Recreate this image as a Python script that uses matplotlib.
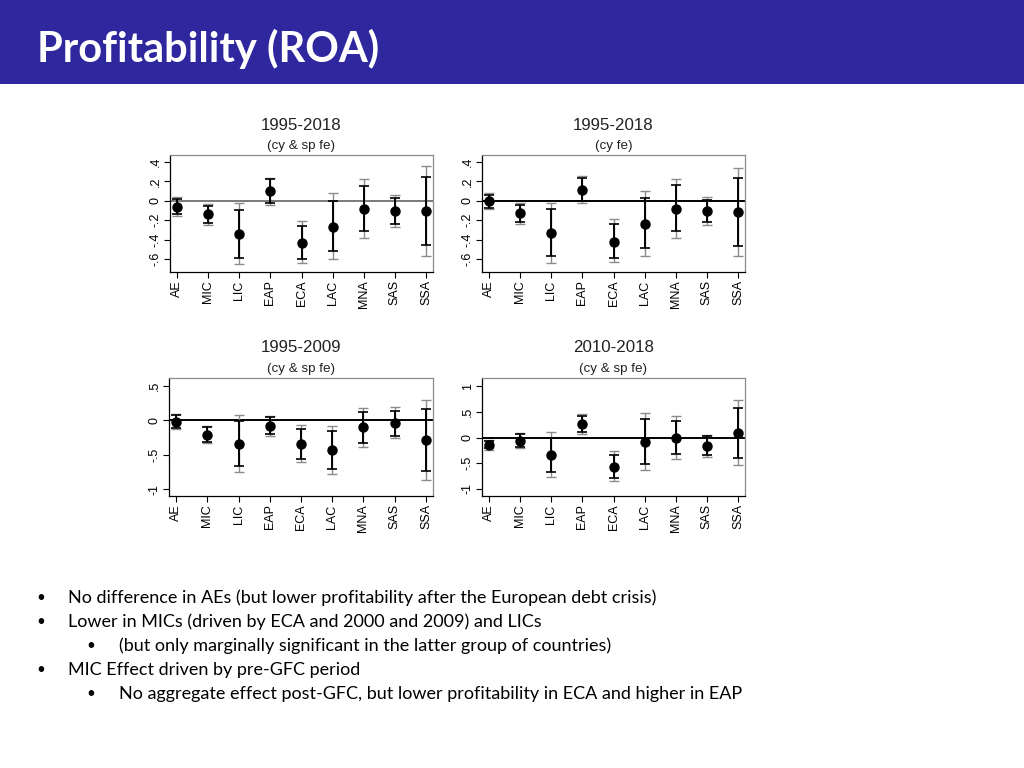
import numpy as np
import matplotlib.pyplot as plt
from matplotlib.patches import Rectangle

# Regiony / grupy krajow
regions = ['AE', 'MIC', 'LIC', 'EAP', 'ECA', 'LAC', 'MNA', 'SAS', 'SSA']

# 1995-2018, cy & sp fe
p1_est = [-0.06, -0.14, -0.34, 0.10, -0.43, -0.27, -0.08, -0.11, -0.11]
p1_lo90 = [-0.14, -0.23, -0.59, -0.02, -0.60, -0.52, -0.31, -0.24, -0.46]
p1_hi90 = [0.02, -0.05, -0.09, 0.22, -0.26, 0.00, 0.15, 0.03, 0.25]
p1_lo95 = [-0.16, -0.25, -0.65, -0.04, -0.64, -0.60, -0.38, -0.27, -0.57]
p1_hi95 = [0.04, -0.03, -0.02, 0.24, -0.21, 0.08, 0.22, 0.06, 0.36]

# 1995-2018, cy fe
p2_est = [0.00, -0.13, -0.33, 0.11, -0.42, -0.24, -0.08, -0.11, -0.12]
p2_lo90 = [-0.07, -0.22, -0.57, 0.00, -0.59, -0.49, -0.31, -0.22, -0.47]
p2_hi90 = [0.06, -0.04, -0.08, 0.24, -0.24, 0.03, 0.16, 0.01, 0.23]
p2_lo95 = [-0.08, -0.24, -0.64, -0.02, -0.63, -0.57, -0.38, -0.25, -0.57]
p2_hi95 = [0.08, -0.02, -0.02, 0.26, -0.19, 0.10, 0.22, 0.04, 0.34]

# 1995-2009, cy & sp fe
p3_est = [-0.02, -0.21, -0.35, -0.08, -0.34, -0.43, -0.10, -0.04, -0.29]
p3_lo90 = [-0.11, -0.31, -0.67, -0.20, -0.56, -0.70, -0.33, -0.22, -0.73]
p3_hi90 = [0.08, -0.10, -0.01, 0.05, -0.12, -0.16, 0.12, 0.14, 0.16]
p3_lo95 = [-0.13, -0.33, -0.75, -0.23, -0.61, -0.78, -0.39, -0.26, -0.87]
p3_hi95 = [0.10, -0.08, 0.08, 0.07, -0.06, -0.08, 0.18, 0.19, 0.29]

# 2010-2018, cy & sp fe
p4_est = [-0.14, -0.06, -0.34, 0.26, -0.57, -0.08, 0.00, -0.17, 0.09]
p4_lo90 = [-0.21, -0.19, -0.67, 0.10, -0.79, -0.51, -0.32, -0.34, -0.39]
p4_hi90 = [-0.06, 0.07, 0.00, 0.42, -0.34, 0.35, 0.33, 0.02, 0.57]
p4_lo95 = [-0.24, -0.21, -0.76, 0.07, -0.84, -0.64, -0.41, -0.38, -0.54]
p4_hi95 = [-0.04, 0.09, 0.10, 0.45, -0.27, 0.48, 0.41, 0.05, 0.72]

bullets = [
    (0, 'No difference in AEs (but lower profitability after the European debt crisis)'),
    (0, 'Lower in MICs (driven by ECA and 2000 and 2009) and LICs'),
    (1, '(but only marginally significant in the latter group of countries)'),
    (0, 'MIC Effect driven by pre-GFC period'),
    (1, 'No aggregate effect post-GFC, but lower profitability in ECA and higher in EAP'),
]

W, H = 1024, 768
fig = plt.figure(figsize=(W / 100, H / 100), dpi=100)
fig.patch.set_facecolor('white')

# Naglowek
fig.patches.append(Rectangle((0, 1 - 84 / H), 1, 84 / H, transform=fig.transFigure,
                             facecolor='#2f279e', edgecolor='none', zorder=0))
fig.text(37 / W, 1 - 49 / H, 'Profitability (ROA)', color='white', fontsize=30,
         fontweight='bold', family='Lato', va='center', ha='left')

def px_axes(x0, y0, x1, y1):
    return fig.add_axes([x0 / W, 1 - y1 / H, (x1 - x0) / W, (y1 - y0) / H])

def draw_panel(ax, est, lo90, hi90, lo95, hi95, ylim, yticks, ylabels, title, sub, zcol):
    x = np.arange(1, len(regions) + 1)
    est = np.array(est)
    ax.axhline(0, color=zcol, lw=1.4, zorder=1)
    ax.errorbar(x, est, yerr=[est - np.array(lo95), np.array(hi95) - est], fmt='none',
                ecolor='#8c8c8c', elinewidth=1.0, capsize=3.5, capthick=1.0, zorder=2)
    ax.errorbar(x, est, yerr=[est - np.array(lo90), np.array(hi90) - est], fmt='none',
                ecolor='black', elinewidth=1.4, capsize=3.5, capthick=1.2, zorder=3)
    ax.plot(x, est, 'o', color='black', markersize=6.5, zorder=4)
    ax.set_xlim(0.775, 9.225)
    ax.set_ylim(*ylim)
    ax.set_xticks(x)
    ax.set_xticklabels(regions, rotation=90, fontsize=9, family='Liberation Sans')
    ax.set_yticks(yticks)
    ax.set_yticklabels(ylabels, rotation=90, va='center', fontsize=9, family='Liberation Sans')
    ax.tick_params(direction='out', length=4, width=0.8, pad=2)
    for s in ['left', 'bottom']:
        ax.spines[s].set_color('black')
        ax.spines[s].set_linewidth(0.9)
    for s in ['top', 'right']:
        ax.spines[s].set_color('#8c8c8c')
        ax.spines[s].set_linewidth(0.9)
    ax.text(0.5, 1 + 30 / 117, title, transform=ax.transAxes, ha='center', va='center',
            fontsize=12.2, family='Liberation Sans', color='#222222')
    ax.text(0.5, 1 + 9 / 117, sub, transform=ax.transAxes, ha='center', va='center',
            fontsize=9.6, family='Liberation Sans', color='#222222')

t1 = [-0.6, -0.4, -0.2, 0, 0.2, 0.4]
l1 = ['-.6', '-.4', '-.2', '0', '.2', '.4']

ax1 = px_axes(170, 155, 433, 272)
draw_panel(ax1, p1_est, p1_lo90, p1_hi90, p1_lo95, p1_hi95, (-0.734, 0.472), t1, l1,
           '1995-2018', '(cy & sp fe)', '#7a7a7a')
ax2 = px_axes(482, 155, 745, 272)
draw_panel(ax2, p2_est, p2_lo90, p2_hi90, p2_lo95, p2_hi95, (-0.734, 0.472), t1, l1,
           '1995-2018', '(cy fe)', 'black')
ax3 = px_axes(169, 378, 433, 496)
draw_panel(ax3, p3_est, p3_lo90, p3_hi90, p3_lo95, p3_hi95, (-1.10, 0.617),
           [-1, -0.5, 0, 0.5], ['-1', '-.5', '0', '.5'], '1995-2009', '(cy & sp fe)', 'black')
ax4 = px_axes(482, 378, 745, 496)
draw_panel(ax4, p4_est, p4_lo90, p4_hi90, p4_lo95, p4_hi95, (-1.136, 1.156),
           [-1, -0.5, 0, 0.5, 1], ['-1', '-.5', '0', '.5', '1'], '2010-2018', '(cy & sp fe)', 'black')

# Punkty tekstowe
y = 598
for level, txt in bullets:
    bx = 36 if level == 0 else 86
    tx = 68 if level == 0 else 119
    fig.text(bx / W, 1 - y / H, '•', fontsize=11, family='Lato', va='center', ha='left')
    fig.text(tx / W, 1 - y / H, txt, fontsize=13, family='Lato', va='center', ha='left')
    y += 24

fig.savefig('out.png', dpi=100)
